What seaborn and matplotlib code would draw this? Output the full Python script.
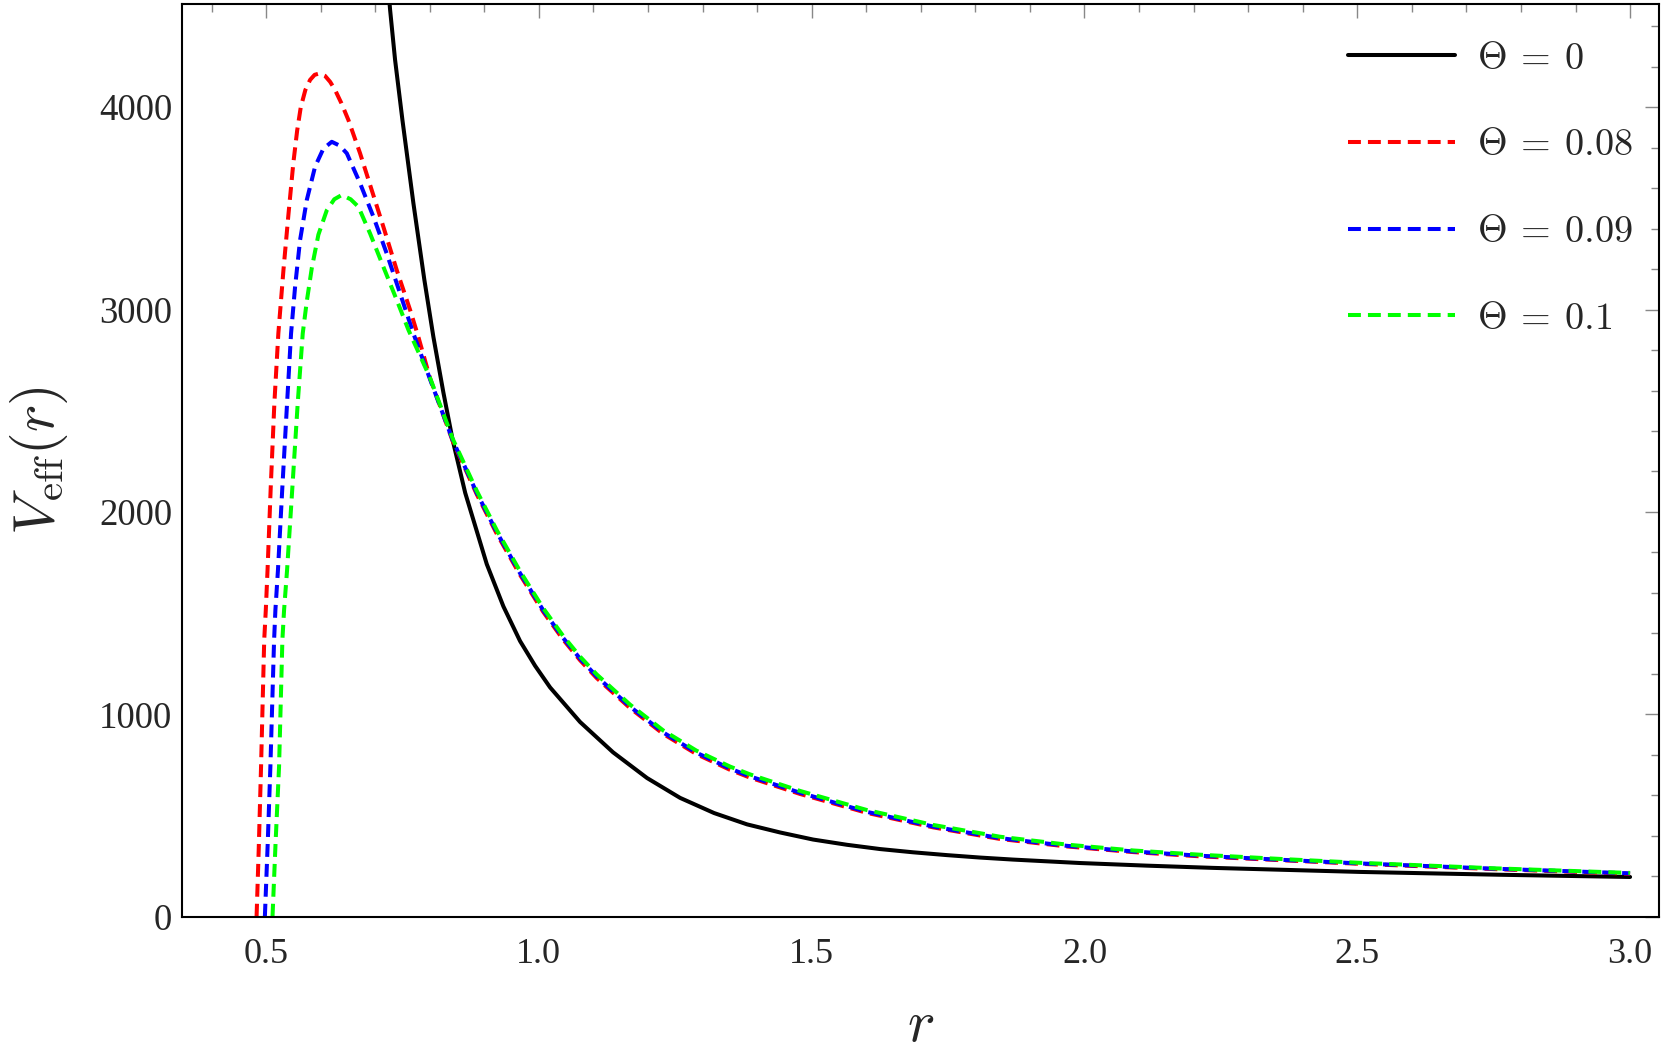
import numpy as np
import matplotlib
matplotlib.use("Agg")
import matplotlib.pyplot as plt
import seaborn as sns
from matplotlib.ticker import MultipleLocator, FormatStrFormatter

# Valori: V_eff(r) per diversi Theta
r_theta0 = [0.722, 0.7273, 0.7364, 0.750, 0.770, 0.790, 0.8066, 0.825, 0.842, 0.865,
            0.9045, 0.935, 0.9655, 0.9930, 1.0205, 1.0755, 1.136, 1.1983, 1.2588, 1.3211,
            1.3816, 1.4421, 1.5026, 1.5649, 1.6254, 1.6859, 1.7482, 1.8086, 1.8691, 1.9919,
            2.1147, 2.2357, 2.5051, 2.7617, 3.0]
v_theta0 = [4654, 4482, 4235, 3935, 3526, 3149, 2866, 2590, 2355, 2094,
            1742, 1533, 1362, 1240, 1133, 962, 812, 685, 587, 512,
            456, 416, 381, 355, 334, 318, 304, 292, 282, 265,
            252, 241, 221, 207, 196]

r_theta008 = [0.4826, 0.4865, 0.4908, 0.4966, 0.4995, 0.5027, 0.5086, 0.5152, 0.5225, 0.532,
              0.541, 0.550, 0.557, 0.5636, 0.572, 0.5807, 0.589, 0.598, 0.608, 0.6175,
              0.6265, 0.638, 0.651, 0.6723, 0.6937, 0.715, 0.7395, 0.764, 0.779, 0.8006,
              0.842, 0.886, 0.923, 0.9655, 1.008, 1.0445, 1.0755, 1.106, 1.167, 1.228,
              1.289, 1.35, 1.387, 1.479, 1.601, 1.723, 1.845, 1.9675, 2.0896, 2.212,
              2.36, 2.505, 2.75, 3.0]
v_theta008 = [0, 330, 741, 1367, 1515, 1713, 2125, 2537, 2882, 3200,
              3470, 3725, 3885, 4000, 4085, 4135, 4160, 4167, 4155, 4125,
              4085, 4020, 3936, 3772, 3590, 3409, 3195, 2998, 2866, 2660,
              2350, 2088, 1891, 1689, 1506, 1369, 1267, 1179, 1031, 903,
              803, 726, 687, 606, 513, 441, 384, 347, 319, 298,
              279, 261, 235, 212]

r_theta009 = [0.4978, 0.5030, 0.5079, 0.5147, 0.5171, 0.5218, 0.5299, 0.5385, 0.5458, 0.5532,
              0.5623, 0.5746, 0.5898, 0.605, 0.6204, 0.635, 0.648, 0.6723, 0.6967, 0.721,
              0.7456, 0.77, 0.8006, 0.842, 0.886, 0.923, 0.9655, 1.008, 1.0445, 1.0755,
              1.106, 1.167, 1.228, 1.289, 1.35, 1.387, 1.479, 1.601, 1.723, 1.845,
              1.9675, 2.0896, 2.212, 2.36, 2.505, 2.75, 3.0]
v_theta009 = [0, 360, 741, 1367, 1515, 1713, 2125, 2537, 2882, 3113,
              3343, 3541, 3706, 3795, 3829, 3810, 3772, 3624, 3459, 3278,
              3080, 2882, 2655, 2355, 2095, 1899, 1697, 1514, 1377, 1275,
              1187, 1038, 910, 810, 732, 693, 612, 518, 445, 388,
              350, 322, 301, 281, 263, 237, 214]

r_theta01 = [0.5118, 0.5175, 0.5238, 0.5299, 0.533, 0.5385, 0.5483, 0.558, 0.5672, 0.5746,
             0.5838, 0.5959, 0.6112, 0.625, 0.6387, 0.655, 0.6692, 0.6906, 0.715, 0.7395,
             0.761, 0.8006, 0.842, 0.886, 0.923, 0.9655, 1.008, 1.0445, 1.0755, 1.106,
             1.167, 1.228, 1.289, 1.35, 1.387, 1.479, 1.601, 1.723, 1.845, 1.9675,
             2.0896, 2.212, 2.36, 2.505, 2.75, 3.0]
v_theta01 = [0, 370, 741, 1367, 1515, 1713, 2125, 2537, 2882, 3040,
             3205, 3370, 3490, 3545, 3566, 3545, 3508, 3376, 3211, 3047,
             2899, 2662, 2362, 2105, 1909, 1707, 1524, 1387, 1285, 1197,
             1048, 920, 820, 742, 703, 621, 527, 453, 395, 356,
             327, 306, 285, 266, 239, 216]

labels = [r'$\Theta\:=\:0$', r'$\Theta\:=\:0.08$', r'$\Theta\:=\:0.09$', r'$\Theta\:=\:0.1$']
colors = ['black', '#ff0000', '#0000ff', '#00ff00']

sns.set_theme(style='white')
plt.rcParams['font.family'] = ['Liberation Serif', 'DejaVu Serif']
plt.rcParams['mathtext.fontset'] = 'cm'

fig, ax = plt.subplots(figsize=(16.61, 10.5), dpi=100)
fig.subplots_adjust(left=0.1096, right=0.9988, top=0.9962, bottom=0.127)

series = [(r_theta0, v_theta0), (r_theta008, v_theta008),
          (r_theta009, v_theta009), (r_theta01, v_theta01)]
for i, ((rr, vv), lab, col) in enumerate(zip(series, labels, colors)):
    sns.lineplot(x=rr, y=vv, ax=ax, color=col, lw=2.9, label=lab)
    if i > 0:
        ax.lines[-1].set_dashes((3.2, 1.75))

ax.set_xlim(0.346, 3.053)
ax.set_ylim(0, 4510)

ax.xaxis.set_major_locator(MultipleLocator(0.5))
ax.xaxis.set_minor_locator(MultipleLocator(0.1))
ax.yaxis.set_major_locator(MultipleLocator(1000))
ax.yaxis.set_minor_locator(MultipleLocator(200))
ax.xaxis.set_major_formatter(FormatStrFormatter('%.1f'))
ax.yaxis.set_major_formatter(FormatStrFormatter('%d'))

ax.tick_params(which='both', direction='in', color='black', width=1.1)
ax.tick_params(which='major', length=10)
ax.tick_params(which='minor', length=5.8)
ax.tick_params(axis='x', which='major', labelsize=26, pad=15.5)
ax.tick_params(axis='y', which='major', labelsize=26.5, pad=7)

# tick grigi su lato superiore e destro, come nel frame di Mathematica
secx = ax.secondary_xaxis('top')
secx.xaxis.set_major_locator(MultipleLocator(0.5))
secx.xaxis.set_minor_locator(MultipleLocator(0.1))
secy = ax.secondary_yaxis('right')
secy.yaxis.set_major_locator(MultipleLocator(1000))
secy.yaxis.set_minor_locator(MultipleLocator(200))
for sec in (secx, secy):
    sec.tick_params(which='both', direction='in', color='#888888', width=1.0,
                    labeltop=False, labelright=False, labelbottom=False, labelleft=False)
    sec.tick_params(which='major', length=10)
    sec.tick_params(which='minor', length=5.8)
    for sp in sec.spines.values():
        sp.set_visible(False)

for sp in ax.spines.values():
    sp.set_color('black')
    sp.set_linewidth(1.5)

ax.set_xlabel(r'$r$', fontsize=42)
ax.set_ylabel(r'$V_{\mathrm{eff}}(r)$', fontsize=42)
ax.xaxis.label.set_va('center')
ax.yaxis.label.set_va('center')
ax.xaxis.set_label_coords(0.5, -0.121)
ax.yaxis.set_label_coords(-0.0968, 0.5)

leg = ax.legend(loc='upper left', bbox_to_anchor=(0.769, 0.992), frameon=False,
                fontsize=27.5, handlelength=2.8, handletextpad=0.58,
                labelspacing=1.36, borderpad=0.3)

fig.savefig('out.png', dpi=100)
